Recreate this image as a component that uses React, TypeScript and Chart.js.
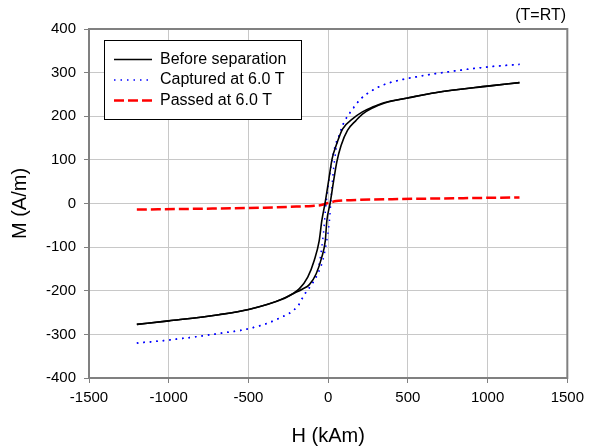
import React, { useEffect, useRef } from "react";
import { Chart, registerables } from "chart.js";

Chart.register(...registerables);

// Before separation: descending branch (stored in ascending H order)
const beforeDescH = [-1200, -1000, -686, -499, -284, -180, -128, -87, -56, -40, -20, 4, 25, 50, 91, 153, 215, 278, 350, 500, 671, 1000, 1200];
const beforeDescM = [-277, -269, -255, -243, -218, -195, -169, -130, -85, -40, 0, 55, 103, 133, 171, 194, 210, 221, 231, 242, 254, 269, 277];
// Before separation: ascending branch
const beforeAscH = [-1200, -1000, -686, -499, -284, -220, -160, -118, -75, -40, -18, -8, 12, 33, 54, 81, 122, 174, 215, 278, 350, 500, 671, 1000, 1200];
const beforeAscM = [-277, -269, -255, -243, -219, -207, -196, -186, -161, -123, -85, -39, 0, 49, 95, 133, 168, 190, 205, 219, 230, 242, 254, 269, 277];

// Captured at 6.0 T: descending branch
const capDescH = [-1200, -1000, -686, -499, -313, -188, -150, -100, -70, -50, -30, -13, 8, 30, 50, 71, 98, 143, 205, 290, 370, 490, 680, 1000, 1200];
const capDescM = [-320, -313, -298, -287, -264, -234, -210, -184, -160, -125, -70, 0, 60, 110, 140, 158, 185, 212, 240, 262, 275, 286, 298, 313, 319];
// Captured at 6.0 T: ascending branch
const capAscH = [-1200, -1000, -686, -499, -313, -188, -149, -95, -64, -33, -12, 8, 16, 30, 50, 70, 100, 150, 205, 290, 370, 490, 680, 1000, 1200];
const capAscM = [-320, -313, -298, -287, -264, -234, -208, -181, -161, -130, -92, -40, 0, 65, 125, 158, 186, 214, 240, 262, 275, 286, 298, 313, 319];

const passedH = [-1200, -800, -400, -200, -100, -50, 0, 50, 100, 200, 400, 800, 1200];
const passedM = [-14, -12, -9.5, -7, -5.5, -4, 1, 5.5, 7, 8.5, 10, 12, 14];

const xTickValues = [-1500, -1000, -500, 0, 500, 1000, 1500];
const yTickValues = [-400, -300, -200, -100, 0, 100, 200, 300, 400];

const seriesLabels = ["Before separation", "Captured at 6.0 T", "Passed at 6.0 T"];
const xTitle = "H (kAm)";
const yTitle = "M (A/m)";
const cornerNote = "(T=RT)";

const FONT = "Arial, 'Liberation Sans', sans-serif";

const toPts = (xs: number[], ys: number[]) => xs.map((x, i) => ({ x, y: ys[i] }));

export default function App() {
  const ref = useRef<HTMLCanvasElement | null>(null);

  useEffect(() => {
    if (!ref.current) return;

    const framePlugin = {
      id: "frameAndLegend",
      afterDatasetsDraw(chart: any) {
        const { ctx, chartArea } = chart;
        ctx.save();
        ctx.strokeStyle = "#808080";
        ctx.lineWidth = 2;
        ctx.strokeRect(chartArea.left, chartArea.top, chartArea.right - chartArea.left, chartArea.bottom - chartArea.top);

        const bx = 104.5, by = 40.5, bw = 197, bh = 79;
        ctx.fillStyle = "#ffffff";
        ctx.fillRect(bx, by, bw, bh);
        ctx.strokeStyle = "#000000";
        ctx.lineWidth = 1;
        ctx.strokeRect(bx, by, bw, bh);
        const rows = [59.5, 80, 100.5];
        const items = [0, 2, 4];
        items.forEach((di, r) => {
          const ds = chart.data.datasets[di];
          const yy = rows[r];
          ctx.beginPath();
          ctx.strokeStyle = ds.borderColor;
          ctx.lineWidth = ds.borderWidth;
          ctx.setLineDash(ds.borderDash || []);
          ctx.moveTo(114, yy);
          ctx.lineTo(152, yy);
          ctx.stroke();
          ctx.setLineDash([]);
          ctx.fillStyle = "#000000";
          ctx.font = `16px ${FONT}`;
          ctx.textBaseline = "middle";
          ctx.textAlign = "left";
          ctx.fillText(ds.label, 160, yy);
        });

        ctx.font = `16px ${FONT}`;
        ctx.fillStyle = "#000000";
        ctx.textAlign = "right";
        ctx.textBaseline = "middle";
        ctx.fillText(cornerNote, 566, 16);
        ctx.restore();
      },
    };

    const black = { showLine: true, borderColor: "#000000", borderWidth: 1.6, pointRadius: 0, cubicInterpolationMode: "monotone" };
    const blue = { showLine: true, borderColor: "#0000ff", borderWidth: 1.5, borderDash: [1.5, 5], pointRadius: 0, cubicInterpolationMode: "monotone" };

    const chart = new Chart(ref.current, {
      type: "scatter",
      data: {
        datasets: [
          { label: seriesLabels[0], data: toPts(beforeDescH, beforeDescM), ...black },
          { label: seriesLabels[0] + " ", data: toPts(beforeAscH, beforeAscM), ...black },
          { label: seriesLabels[1], data: toPts(capDescH, capDescM), ...blue },
          { label: seriesLabels[1] + " ", data: toPts(capAscH, capAscM), ...blue },
          {
            label: seriesLabels[2],
            data: toPts(passedH, passedM),
            showLine: true,
            borderColor: "#ff0000",
            borderWidth: 2.5,
            borderDash: [10, 4],
            pointRadius: 0,
            cubicInterpolationMode: "monotone",
          },
        ],
      },
      options: {
        responsive: false,
        animation: false,
        devicePixelRatio: 1,
        layout: { padding: { left: 0, right: 18, top: 29, bottom: 0 } },
        plugins: {
          legend: { display: false },
          tooltip: { enabled: false },
        },
        scales: {
          x: {
            type: "linear",
            min: -1500,
            max: 1500,
            afterBuildTicks: (s: any) => {
              s.ticks = xTickValues.map((v) => ({ value: v }));
            },
            afterFit: (s: any) => {
              s.height = 68;
            },
            ticks: {
              color: "#000000",
              font: { family: FONT, size: 15 },
              padding: 6,
              maxRotation: 0,
              callback: (v: any) => String(v),
            },
            grid: {
              color: "#c8c8c8",
              lineWidth: 1,
              tickColor: "#808080",
              tickLength: 5,
            },
            border: { color: "#808080", width: 2 },
            title: {
              display: true,
              text: xTitle,
              color: "#000000",
              font: { family: FONT, size: 20, lineHeight: 1 },
              padding: { top: 0, bottom: 0 },
            },
          },
          y: {
            type: "linear",
            min: -400,
            max: 400,
            afterBuildTicks: (s: any) => {
              s.ticks = yTickValues.map((v) => ({ value: v }));
            },
            afterFit: (s: any) => {
              s.width = 89;
            },
            ticks: {
              color: "#000000",
              font: { family: FONT, size: 15 },
              padding: 8,
              callback: (v: any) => String(v),
            },
            grid: {
              color: "#c8c8c8",
              lineWidth: 1,
              tickColor: "#808080",
              tickLength: 5,
            },
            border: { color: "#808080", width: 2 },
            title: {
              display: true,
              text: yTitle,
              color: "#000000",
              font: { family: FONT, size: 20, lineHeight: 1 },
              padding: { top: 10, bottom: 0 },
            },
          },
        },
      },
      plugins: [framePlugin],
    } as any);

    return () => chart.destroy();
  }, []);

  return (
    <div style={{ position: "absolute", left: 0, top: 0, width: 590, height: 446, background: "#ffffff" }}>
      <canvas ref={ref} width={590} height={446} style={{ width: 590, height: 446 }} />
    </div>
  );
}
